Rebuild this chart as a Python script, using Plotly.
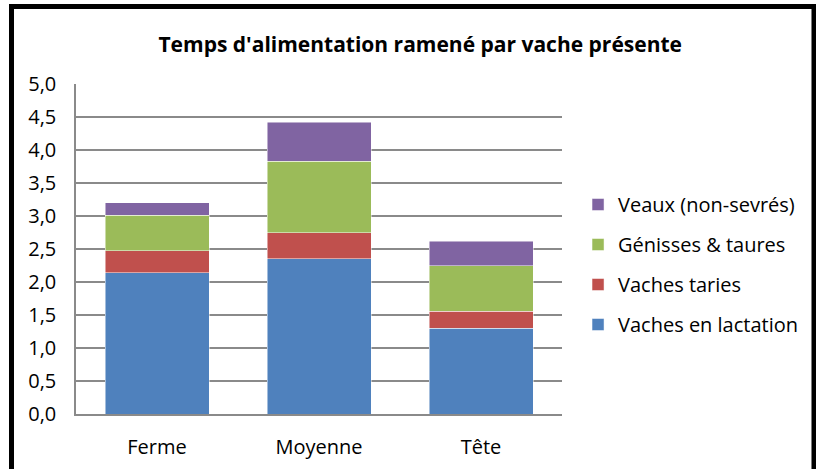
import plotly.graph_objects as go

categories = ["Ferme", "Moyenne", "Tête"]
lactation = [2.14, 2.35, 1.30]
taries = [0.33, 0.40, 0.26]
genisses = [0.54, 1.08, 0.69]
veaux = [0.19, 0.59, 0.37]

series_names = ["Vaches en lactation", "Vaches taries", "Génisses & taures", "Veaux (non-sevrés)"]
series_values = [lactation, taries, genisses, veaux]
colors = ["#4F81BD", "#C0504D", "#9BBB59", "#8064A2"]
legend_ranks = [4, 3, 2, 1]

FONT = "Open Sans"

fig = go.Figure()
for name, vals, col, rank in zip(series_names, series_values, colors, legend_ranks):
    fig.add_trace(go.Bar(
        x=categories, y=vals, name=name, legendgroup=name, legendrank=rank,
        marker=dict(color=col, line=dict(color="rgba(255,255,255,0.6)", width=0.8)),
    ))

fig.update_layout(
    width=816, height=469,
    margin=dict(l=76, r=254, t=84, b=55, autoexpand=False),
    barmode="stack", bargap=0.358,
    paper_bgcolor="white", plot_bgcolor="white",
    font=dict(family=FONT, color="#000000", size=20),
    title=dict(text="<b>Temps d'alimentation ramené par vache présente</b>",
               x=0.515, xref="container", xanchor="center",
               y=0.905, yref="container", yanchor="middle",
               font=dict(family=FONT, size=21, color="#000000")),
    separators=",.",
    legend=dict(traceorder="grouped", tracegroupgap=11,
                x=1.033, xanchor="left", y=0.453, yanchor="middle",
                font=dict(family=FONT, size=20), bgcolor="rgba(0,0,0,0)"),
    showlegend=True,
)
fig.update_yaxes(range=[0, 5], dtick=0.5, tickformat=".1f", automargin=False,
                 showgrid=True, gridcolor="#8a8a8a", gridwidth=1.5,
                 showline=True, linecolor="#8a8a8a", linewidth=1.5,
                 ticks="", ticklabelstandoff=14, zeroline=False)
fig.update_xaxes(showline=True, linecolor="#8a8a8a", linewidth=1.5, automargin=False,
                 ticks="", ticklabelstandoff=14)

fig.add_shape(type="rect", xref="paper", yref="paper",
              x0=-0.1327, x1=1.5185, y0=-0.2, y1=1.2348,
              line=dict(color="black", width=5), fillcolor="rgba(0,0,0,0)",
              layer="above")

fig.write_html("out.html", config={"displayModeBar": False},
               post_script="document.body.style.margin='0';document.body.style.overflow='hidden';")
